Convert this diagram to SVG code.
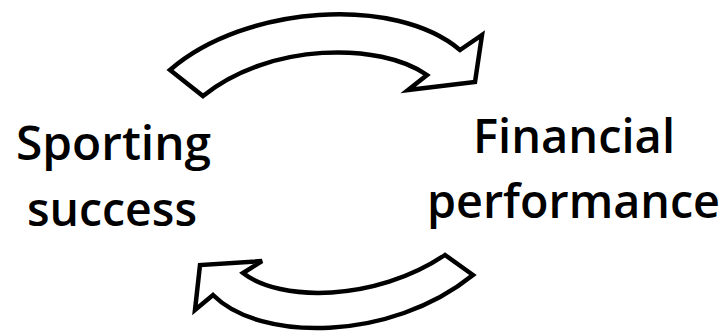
<svg xmlns="http://www.w3.org/2000/svg" width="728" height="336" viewBox="0 0 728 336">
  <style>
    .lbl { font-family: "Open Sans", "Noto Sans", "Liberation Sans", sans-serif; font-size: 47px; font-weight: 600; fill: #000; }
    .arrow { fill: #fff; stroke: #000; stroke-width: 4.5; stroke-linejoin: miter; }
  </style>
  <rect width="728" height="336" fill="#fff"/>
  <g id="connectors">
    <path id="arrow-top" class="arrow" d="M170,70 C245,5 395,-5 460,50 L482,35 L475,82 L408,90 L427,75 C380,42 270,42 203,96 Z"/>
    <path id="arrow-bottom" class="arrow" d="M445,255 L473,275 C390,342 260,342 213,295 L195,310 L200,265 L262,261 L243,273 C280,302 375,302 445,255 Z"/>
  </g>
  <g id="node-sporting">
    <text class="lbl" x="16" y="160" textLength="195" lengthAdjust="spacingAndGlyphs">Sporting</text>
    <text class="lbl" x="27" y="226" textLength="170" lengthAdjust="spacingAndGlyphs">success</text>
  </g>
  <g id="node-financial">
    <text class="lbl" x="473" y="153" textLength="202" lengthAdjust="spacingAndGlyphs">Financial</text>
    <text class="lbl" x="427" y="218" textLength="293" lengthAdjust="spacingAndGlyphs">performance</text>
  </g>
</svg>
